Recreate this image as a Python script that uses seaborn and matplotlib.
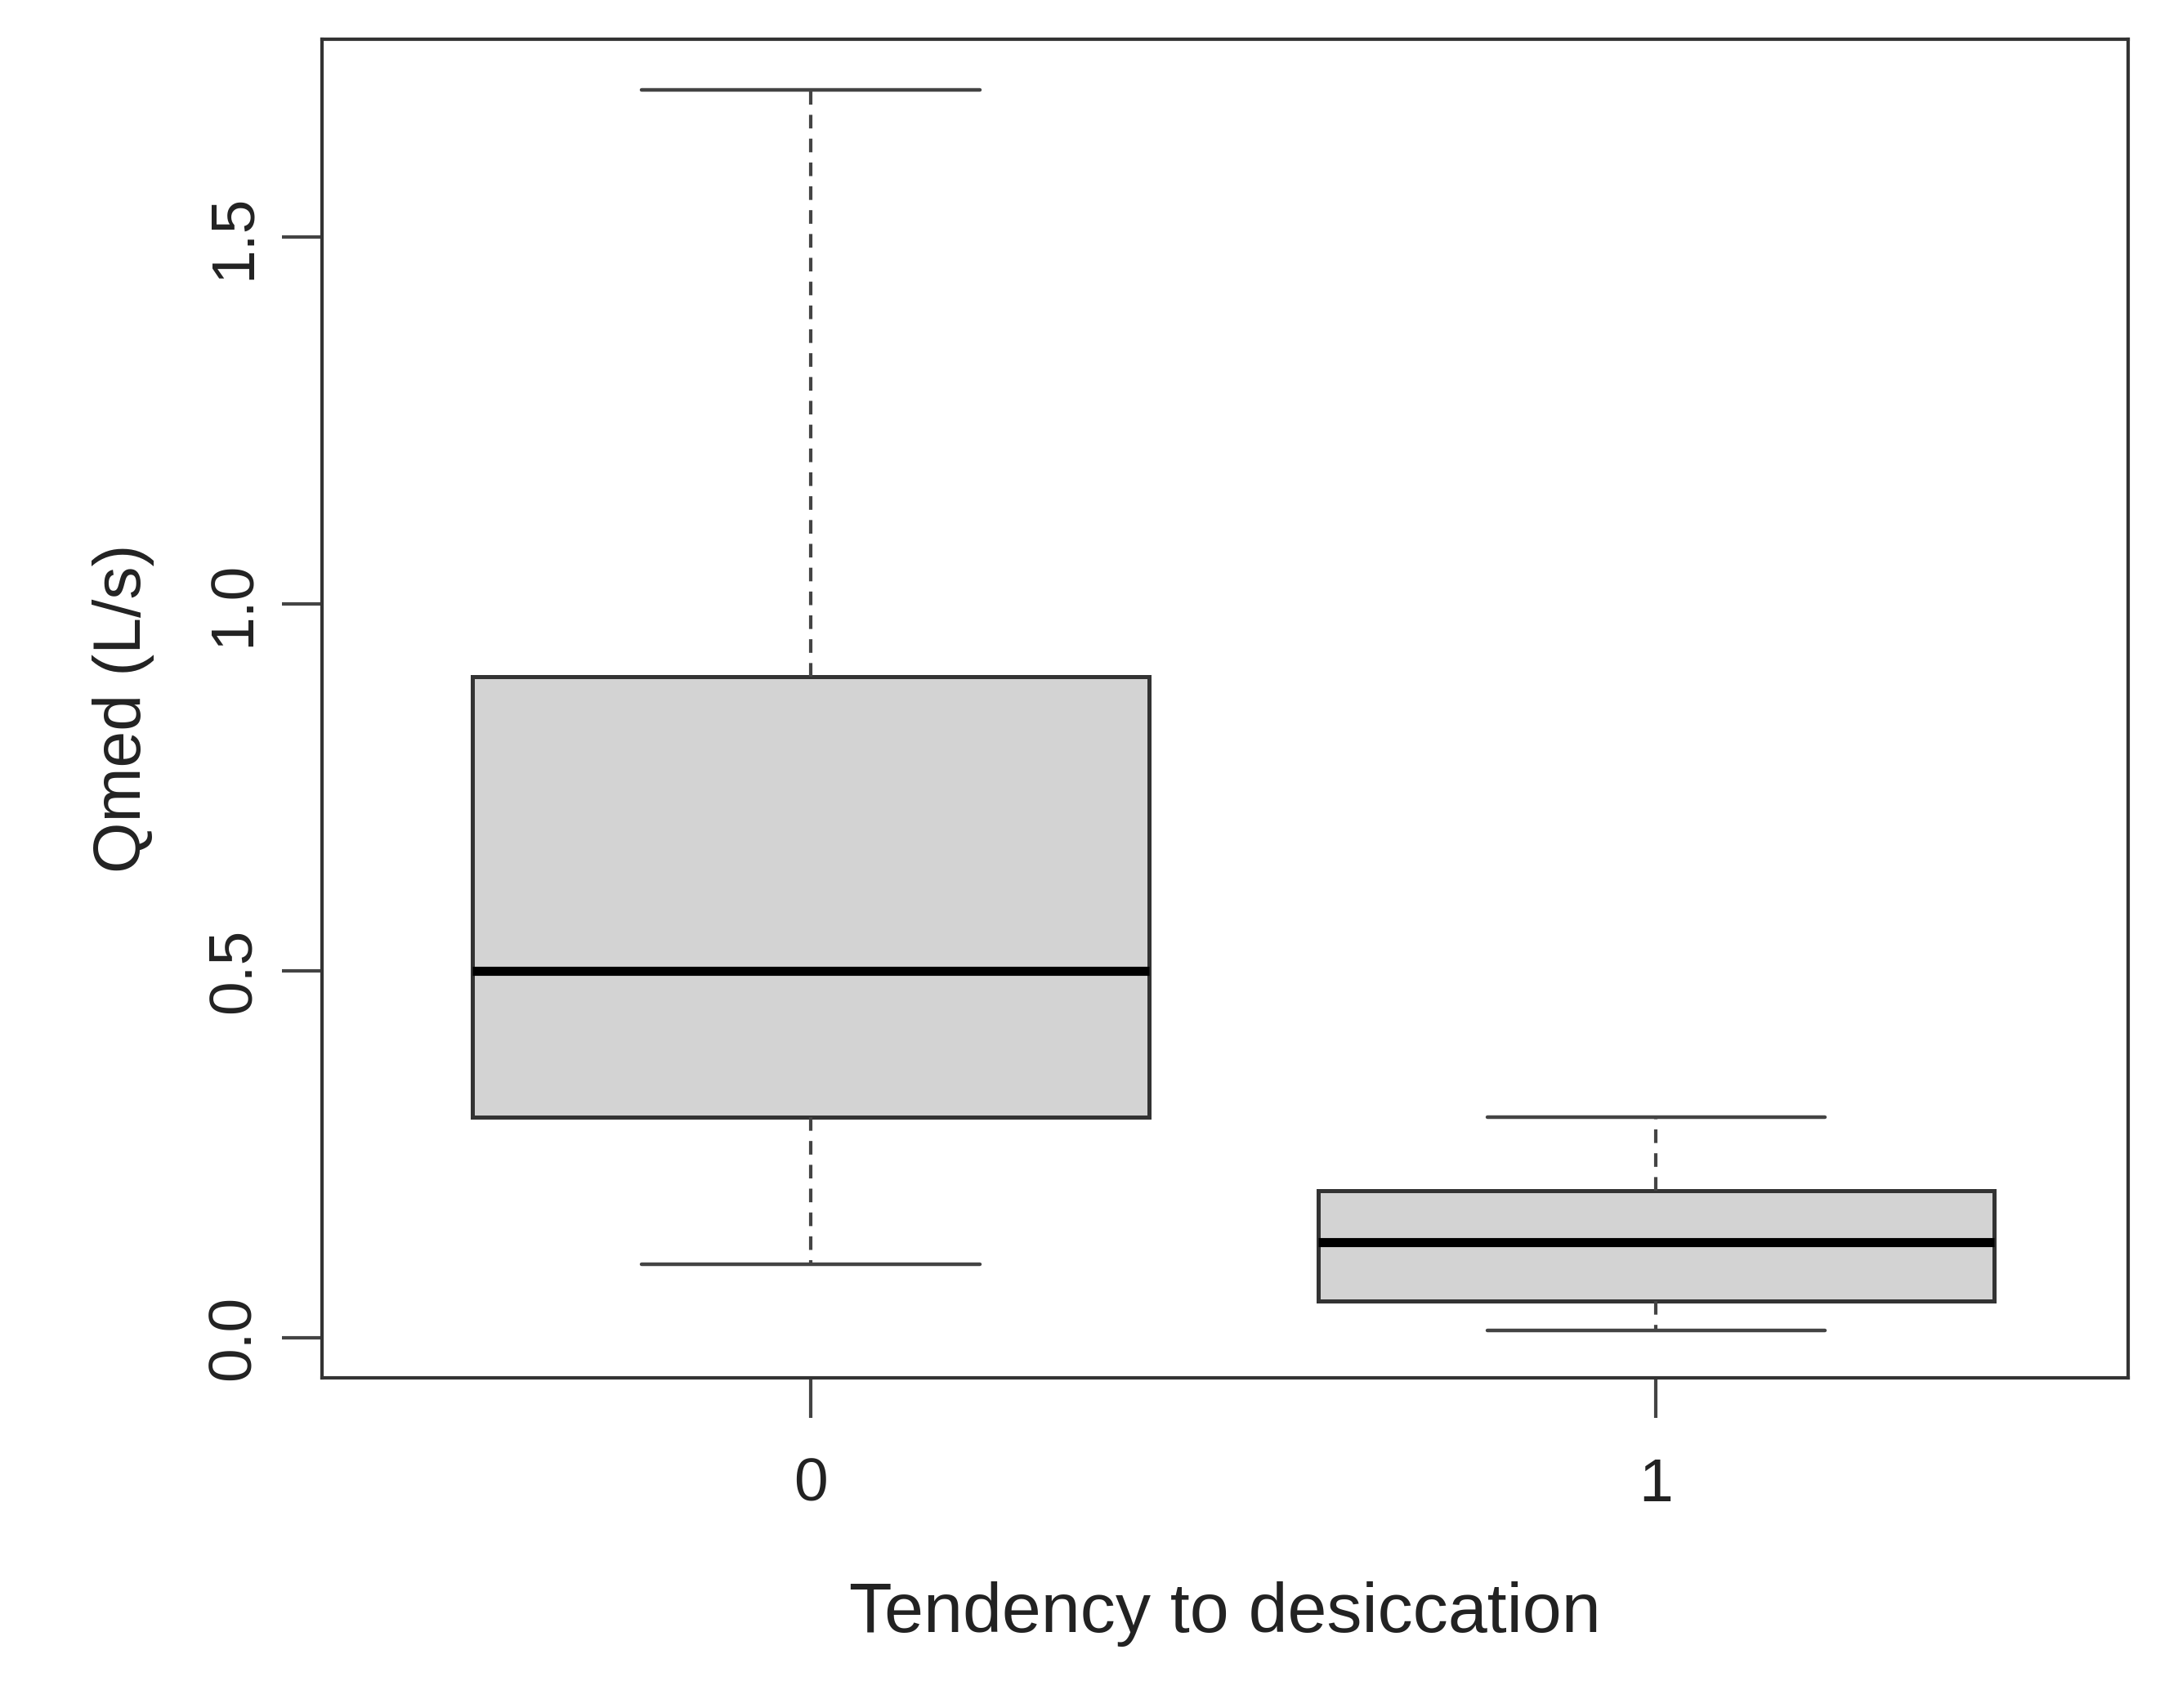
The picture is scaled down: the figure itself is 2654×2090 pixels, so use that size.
import matplotlib
matplotlib.use("Agg")
import matplotlib.pyplot as plt
import seaborn as sns
import pandas as pd
import numpy as np

groups = ["0", "1"]
# five-number summaries: min, Q1, median, Q3, max
stats0 = [0.10, 0.30, 0.50, 0.90, 1.70]
stats1 = [0.01, 0.05, 0.13, 0.20, 0.30]

df = pd.DataFrame({
    "group": [groups[0]] * len(stats0) + [groups[1]] * len(stats1),
    "Qmed": stats0 + stats1,
})

sns.set_style("white")
plt.rcParams['font.family'] = ['Liberation Sans', 'DejaVu Sans']

fig = plt.figure(figsize=(26.54, 20.90), dpi=100)
ax = fig.add_axes([0.1486, 0.1935, 0.8324, 0.7835])

sns.boxplot(data=df, x="group", y="Qmed", order=groups, whis=np.inf, width=0.8,
            color="#d3d3d3", ax=ax, saturation=1,
            boxprops=dict(facecolor="#d3d3d3", edgecolor="#333333", linewidth=3.6),
            medianprops=dict(color="black", linewidth=8),
            whiskerprops=dict(color="#444444", linewidth=3, linestyle=(0, (4, 3))),
            capprops=dict(color="#444444", linewidth=3.2))

ax.set_xlim(-0.578, 1.558)
ax.set_ylim(-0.0546, 1.769)
ax.set_yticks([0.0, 0.5, 1.0, 1.5])
ax.set_yticklabels(["0.0", "0.5", "1.0", "1.5"], rotation=90, va="center")
for s in ax.spines.values():
    s.set_visible(True)
    s.set_color("#333333")
    s.set_linewidth(3)
ax.tick_params(axis="both", direction="out", length=35, width=3, color="#444444",
               labelsize=54, labelcolor="#222222", pad=18, bottom=True, left=True)
ax.tick_params(axis="x", pad=35)
ax.set_xlabel("Tendency to desiccation", fontsize=62, color="#222222", labelpad=60)
ax.set_ylabel("Qmed (L/s)", fontsize=58, color="#222222", labelpad=45)

fig.savefig("out.png", dpi=100, facecolor="white")
